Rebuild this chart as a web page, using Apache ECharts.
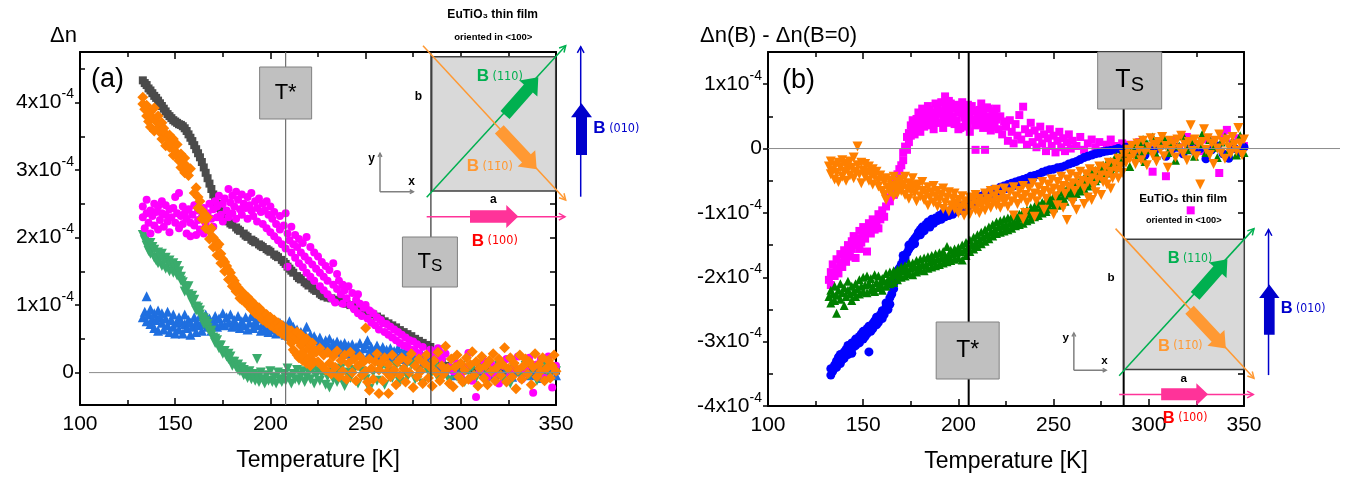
<!DOCTYPE html>
<html>
<head>
<meta charset="utf-8">
<script src="https://cdn.jsdelivr.net/npm/echarts@6/dist/echarts.min.js"></script>
<style>
  html, body { margin: 0; padding: 0; background: #fff; }
  #chart { width: 1347px; height: 479px; }
</style>
</head>
<body>
<div id="chart"></div>
<script>
// Values are in units of 1e-4 (Δn), temperatures in K.

// ---- Panel (a): Δn vs temperature ----
const aGraySquares = [
  [133,4.33],[134,4.29],[135,4.26],[136,4.21],[137,4.18],[138,4.14],[139,4.10],[140,4.07],[141,4.03],[142,3.99],
  [143,3.95],[144,3.91],[145,3.87],[146,3.83],[147,3.80],[148,3.77],[149,3.74],[150,3.72],[151,3.70],[152,3.68],
  [153,3.67],[154,3.65],[155,3.62],[156,3.58],[157,3.53],[158,3.48],[159,3.43],[160,3.37],[161,3.31],[162,3.25],
  [163,3.19],[164,3.12],[165,3.04],[166,2.96],[167,2.88],[168,2.80],[169,2.72],[170,2.64],[171,2.57],[172,2.50],
  [173,2.44],[174,2.39],[175,2.34],[176,2.30],[177,2.27],[178,2.24],[179,2.21],[180,2.19],[182,2.15],[183,2.12],
  [184,2.10],[186,2.06],[187,2.03],[188,2.01],[190,1.97],[191,1.95],[192,1.93],[194,1.90],[195,1.88],[196,1.86],
  [198,1.83],[199,1.81],[200,1.79],[202,1.75],[203,1.73],[204,1.71],[206,1.67],[207,1.64],[208,1.61],[209,1.57],
  [210,1.54],[211,1.51],[212,1.48],[214,1.43],[215,1.40],[216,1.38],[218,1.34],[219,1.32],[220,1.29],[222,1.25],
  [223,1.23],[224,1.21],[226,1.17],[227,1.15],[228,1.13],[230,1.11],[232,1.10],[234,1.08],[236,1.06],[238,1.04],
  [240,1.02],[242,1.00],[244,0.98],[246,0.96],[248,0.94],[250,0.92],[252,0.89],[254,0.86],[256,0.83],[258,0.80],
  [260,0.76],[262,0.73],[264,0.70],[266,0.67],[268,0.63],[270,0.60],[272,0.57],[274,0.54],[276,0.50],[278,0.47],
  [280,0.44],[282,0.41],[284,0.38],[286,0.30],[288,0.22],[290,0.15],[292,0.10],[295,0.06],[298,0.08],[301,0.03],
  [304,0.06],[307,0.02],[310,0.05],[314,0.01],[318,0.04],[322,0.00],[326,0.05],[330,0.02],[334,0.04],[338,0.01],
  [342,0.05],[346,0.02],[350,0.03]
];

const aBlueTriangles = [
  [133,0.82],[134,0.90],[135,0.76],[135,1.13],[136,0.86],[137,0.72],[137,0.94],[138,0.80],[139,0.66],[139,0.88],
  [140,0.78],[141,0.92],[141,0.62],[142,0.82],[143,0.74],[143,0.88],[144,0.64],[145,0.80],[146,0.70],[146,0.90],
  [147,0.60],[148,0.78],[149,0.68],[149,0.86],[150,0.58],[151,0.74],[152,0.82],[152,0.64],[153,0.76],[154,0.58],
  [155,0.72],[155,0.86],[156,0.66],[157,0.78],[158,0.56],[158,0.74],[159,0.68],[160,0.82],[161,0.60],[161,0.74],
  [162,0.70],[163,0.84],[164,0.62],[164,0.76],[165,0.72],[166,0.86],[167,0.68],[168,0.80],[169,0.62],[170,0.76],
  [171,0.84],[172,0.68],[173,0.80],[174,0.72],[175,0.88],[176,0.70],[177,0.82],[178,0.74],[179,0.86],[180,0.68],
  [181,0.78],[182,0.70],[183,0.84],[184,0.66],[185,0.76],[186,0.70],[187,0.82],[188,0.64],[189,0.74],[190,0.84],
  [191,0.66],[192,0.76],[193,0.70],[194,0.80],[195,0.62],[196,0.72],[197,0.64],[198,0.78],[199,0.60],[200,0.70],
  [201,0.64],[202,0.76],[203,0.58],[204,0.68],[205,0.74],[206,0.60],[207,0.70],[208,0.56],[209,0.66],[210,0.76],
  [211,0.58],[212,0.68],[213,0.54],[214,0.64],[215,0.50],[216,0.60],[217,0.46],[218,0.58],[219,0.68],[220,0.48],
  [221,0.56],[222,0.42],[223,0.54],[224,0.48],[225,0.38],[226,0.52],[227,0.44],[228,0.34],[229,0.48],[230,0.40],
  [231,0.50],[232,0.32],[233,0.44],[234,0.38],[235,0.46],[236,0.30],[237,0.42],[238,0.36],[239,0.44],[240,0.28],
  [241,0.40],[242,0.34],[243,0.42],[244,0.26],[245,0.38],[246,0.32],[247,0.44],[248,0.26],[249,0.36],[250,0.42],
  [251,0.48],[252,0.30],[253,0.38],[254,0.24],[255,0.34],[256,0.40],[257,0.22],[258,0.32],[259,0.38],[260,0.24],
  [261,0.34],[262,0.26],[263,0.36],[264,0.22],[265,0.32],[266,0.28],[267,0.36],[268,0.20],[269,0.30],[270,0.26],
  [271,0.34],[272,0.18],[273,0.28],[274,0.24],[275,0.32],[276,0.16],[277,0.26],[278,0.22],[279,0.30],[280,0.14],
  [281,0.24],[282,0.20],[283,0.12],[284,0.22],[286,0.10],[288,0.04],[290,0.10],[292,0.00],[294,0.06],[296,-0.04],
  [298,0.04],[300,-0.02],[303,0.06],[306,-0.06],[309,0.02],[312,0.08],[315,-0.04],[318,0.04],[321,-0.02],[324,0.06],
  [327,-0.06],[330,0.02],[333,0.08],[336,-0.04],[339,0.04],[342,-0.08],[345,0.02],[348,0.06],[350,-0.04]
];

const aGreenDownTriangles = [
  [133,2.04],[134,1.96],[135,1.88],[135,2.00],[136,1.80],[137,1.92],[137,1.76],[138,1.86],[139,1.70],[139,1.82],
  [140,1.66],[141,1.78],[141,1.62],[142,1.72],[143,1.58],[143,1.76],[144,1.66],[145,1.54],[145,1.70],[146,1.62],
  [147,1.50],[147,1.66],[148,1.58],[149,1.48],[149,1.62],[150,1.54],[151,1.44],[151,1.58],[152,1.50],[153,1.42],
  [153,1.36],[154,1.34],[155,1.28],[155,1.20],[156,1.26],[157,1.16],[157,1.28],[158,1.12],[159,1.14],[159,1.04],
  [160,1.08],[161,0.98],[161,0.92],[162,0.96],[163,0.86],[163,0.92],[164,0.82],[165,0.80],[165,0.72],[166,0.76],
  [167,0.66],[167,0.72],[168,0.62],[169,0.56],[169,0.62],[170,0.52],[171,0.50],[171,0.44],[172,0.48],[173,0.40],
  [173,0.36],[174,0.40],[175,0.32],[175,0.28],[176,0.32],[177,0.24],[178,0.20],[178,0.28],[179,0.24],[180,0.16],
  [180,0.10],[181,0.16],[182,0.08],[183,0.04],[183,0.12],[184,0.02],[185,0.08],[186,-0.04],[186,0.04],[187,-0.02],
  [188,-0.08],[189,0.02],[190,-0.10],[191,-0.02],[192,-0.12],[193,0.20],[193,-0.04],[194,-0.14],[195,0.00],[196,-0.10],
  [197,-0.16],[198,-0.04],[199,-0.12],[200,0.02],[201,-0.14],[202,-0.06],[203,-0.16],[204,0.00],[205,-0.10],[206,-0.14],
  [207,-0.02],[208,-0.12],[209,0.06],[210,-0.06],[211,-0.16],[212,-0.02],[213,-0.10],[214,0.04],[215,-0.12],[216,-0.04],
  [217,0.02],[218,-0.14],[219,-0.06],[220,0.00],[221,-0.10],[222,0.04],[223,-0.16],[224,-0.04],[225,0.02],[226,-0.12],
  [227,-0.02],[228,0.06],[229,-0.18],[230,-0.06],[231,-0.22],[232,0.00],[233,-0.10],[234,0.04],[235,-0.14],[236,-0.02],
  [237,0.06],[238,-0.12],[239,-0.20],[240,0.00],[242,-0.08],[244,0.04],[246,-0.16],[248,0.02],[250,-0.10],[252,-0.24],
  [254,0.00],[256,-0.12],[258,0.06],[260,-0.18],[262,0.02],[264,-0.08],[266,0.10],[268,-0.14],[270,0.04],[272,-0.06],
  [274,0.12],[276,-0.10],[278,0.02],[280,-0.16],[282,0.06],[284,-0.04],[286,0.08],[288,-0.08],[290,0.14],[292,0.00],
  [294,-0.12],[296,0.06],[298,-0.06],[300,0.10],[302,-0.14],[304,0.02],[306,0.08],[308,-0.08],[310,0.12],[312,0.00],
  [314,-0.12],[316,0.06],[318,-0.04],[320,0.10],[322,-0.10],[324,0.04],[326,-0.16],[328,0.08],[330,0.00],[332,-0.08],
  [334,0.10],[336,-0.04],[338,0.06],[340,-0.12],[342,0.04],[344,0.12],[346,-0.06],[348,0.08],[350,0.02]
];

const aMagentaCircles = [
  [133,2.30],[133,2.46],[134,2.14],[135,2.36],[135,2.56],[136,2.22],[137,2.40],[137,2.06],[138,2.32],[139,2.50],
  [139,2.18],[140,2.38],[141,2.12],[141,2.46],[142,2.26],[143,2.54],[143,2.36],[144,2.16],[145,2.34],[145,2.48],
  [146,2.24],[147,2.42],[147,2.08],[148,2.30],[149,2.44],[150,2.22],[150,2.60],[151,2.36],[152,2.14],[152,2.66],
  [153,2.32],[154,2.46],[154,2.20],[155,2.36],[156,2.06],[156,2.28],[157,2.42],[158,2.22],[158,2.02],[159,2.34],
  [160,2.18],[160,2.48],[161,2.04],[162,2.26],[162,2.40],[163,2.12],[164,2.30],[165,2.06],[165,2.44],[166,2.20],
  [167,2.36],[168,2.10],[168,2.50],[169,2.28],[170,2.42],[170,2.16],[171,2.54],[172,2.30],[172,2.46],[173,2.62],
  [174,2.34],[175,2.50],[175,2.24],[176,2.58],[177,2.40],[178,2.72],[178,2.30],[179,2.52],[180,2.62],[180,2.36],
  [181,2.46],[182,2.68],[182,2.28],[183,2.56],[184,2.42],[185,2.64],[185,2.34],[186,2.50],[187,2.44],[188,2.60],
  [188,2.28],[189,2.48],[190,2.40],[190,2.66],[191,2.32],[192,2.54],[193,2.44],[193,2.24],[194,2.58],[195,2.38],
  [196,2.50],[196,2.20],[197,2.40],[198,2.54],[198,2.14],[199,2.34],[200,2.46],[200,2.08],[201,2.28],[202,2.02],
  [202,2.38],[203,2.20],[204,1.96],[205,2.32],[205,2.12],[206,1.90],[207,2.18],[208,2.36],[208,1.84],[209,2.06],
  [209,1.57],[210,1.96],[211,2.16],[211,1.78],[212,1.90],[213,2.04],[213,1.70],[214,1.86],[215,1.62],[215,1.98],
  [216,1.78],[217,1.92],[217,1.56],[218,1.72],[219,2.01],[219,1.48],[220,1.66],[221,1.86],[221,1.42],[222,1.60],
  [223,1.78],[223,1.36],[224,1.54],[225,1.72],[226,1.28],[226,1.48],[227,1.64],[228,1.22],[228,1.42],[229,1.58],
  [230,1.16],[230,1.36],[231,1.52],[232,1.10],[233,1.62],[233,1.30],[234,1.04],[235,1.46],[235,1.24],[236,1.36],
  [237,1.16],[238,1.30],[238,1.02],[239,1.22],[240,1.10],[241,1.28],[242,1.00],[243,1.18],[244,0.94],[245,1.08],
  [246,1.16],[246,0.88],[247,1.02],[248,0.84],[249,0.96],[250,1.00],[251,0.80],[252,0.92],[253,0.74],[254,0.88],
  [255,0.70],[256,0.82],[257,0.64],[258,0.78],[259,0.73],[260,0.60],[261,0.72],[262,0.56],[263,0.68],[264,0.52],
  [265,0.64],[266,0.48],[267,0.60],[268,0.44],[269,0.56],[270,0.40],[271,0.52],[272,0.38],[273,0.48],[274,0.34],
  [275,0.46],[276,0.32],[277,0.42],[278,0.28],[280,0.38],[282,0.26],[284,0.34],[286,0.24],[288,0.36],[289,0.30],
  [290,0.20],[292,0.28],[294,0.08],[296,0.02],[298,0.14],[300,-0.06],[302,0.08],[304,0.29],[306,-0.12],[308,-0.36],
  [310,0.04],[312,0.18],[314,-0.06],[316,0.12],[318,-0.02],[320,-0.16],[322,0.10],[324,0.20],[326,-0.04],[328,0.06],
  [330,0.24],[332,-0.10],[334,0.04],[336,0.22],[338,-0.30],[340,0.12],[342,0.20],[344,-0.08],[346,0.24],[348,-0.22],
  [350,0.10]
];

const aOrangeDiamonds = [
  [133,3.98],[133,4.08],[134,3.90],[135,3.80],[135,3.96],[136,3.72],[137,3.86],[137,3.64],[138,3.78],[139,3.92],
  [139,3.58],[140,3.72],[141,3.62],[141,3.80],[142,3.56],[143,3.70],[143,3.46],[144,3.62],[145,3.54],[145,3.36],
  [146,3.48],[147,3.34],[147,3.52],[148,3.40],[149,3.22],[149,3.46],[150,3.28],[151,3.20],[151,3.38],[152,3.14],
  [153,3.04],[153,3.24],[154,3.10],[155,3.18],[155,2.96],[156,3.06],[157,2.92],[158,3.02],[160,2.66],[161,2.74],
  [162,2.60],[162,2.44],[163,2.54],[164,2.40],[164,2.28],[165,2.36],[166,2.26],[166,2.14],[167,2.30],[168,2.10],
  [168,1.98],[169,2.14],[170,2.00],[170,1.86],[171,1.96],[172,1.86],[172,1.74],[173,1.90],[174,1.76],[174,1.62],
  [175,1.68],[176,1.64],[176,1.50],[177,1.58],[178,1.52],[178,1.38],[179,1.48],[180,1.40],[180,1.28],[181,1.36],
  [182,1.30],[182,1.20],[183,1.26],[184,1.22],[184,1.10],[185,1.20],[185,1.08],[186,1.16],[187,1.04],[188,1.12],
  [188,1.00],[189,1.08],[190,1.06],[190,0.94],[191,1.02],[192,1.00],[192,0.88],[193,0.94],[194,0.96],[194,0.84],
  [195,0.90],[196,0.90],[196,0.78],[197,0.84],[198,0.86],[198,0.74],[199,0.80],[200,0.82],[200,0.70],[201,0.76],
  [202,0.78],[202,0.66],[203,0.72],[204,0.74],[204,0.62],[205,0.68],[206,0.70],[206,0.58],[207,0.64],[208,0.66],
  [208,0.54],[209,0.60],[210,0.62],[210,0.50],
  [211,0.62],[211,0.44],[212,0.56],[212,0.34],[213,0.52],[213,0.30],[214,0.60],[214,0.26],[215,0.46],[215,0.22],
  [216,0.40],[216,0.56],[217,0.30],[217,0.18],[218,0.48],[218,0.24],[219,0.50],[219,0.14],[220,0.36],[220,0.20],
  [221,0.42],[221,0.10],[222,0.28],[222,0.44],[223,0.16],[223,0.34],
  [224,0.30],[225,0.16],[226,0.36],[227,0.10],[228,0.26],[229,0.04],[230,0.30],[231,0.14],[232,-0.02],[233,0.24],
  [234,0.08],[235,0.32],[236,-0.06],[237,0.18],[238,0.02],[239,0.26],[240,-0.10],[241,0.14],[242,0.30],[243,0.00],
  [244,0.20],[245,-0.12],[246,0.10],[247,0.24],[248,-0.04],[249,0.16],[250,0.66],[250,0.02],[251,-0.14],[252,-0.26],
  [252,0.20],[253,0.06],[254,-0.10],[255,0.16],[256,0.28],[257,-0.31],[257,0.04],[258,0.14],[259,-0.12],[260,0.22],
  [261,0.00],[262,-0.31],[262,0.12],[263,-0.06],[264,0.26],[265,0.04],[266,-0.18],[267,0.16],[268,-0.04],[269,0.22],
  [270,0.06],[271,-0.14],[272,0.18],[273,0.00],[274,0.28],[275,-0.22],[276,0.10],[277,-0.06],[278,0.20],[279,0.02],
  [280,-0.16],[281,0.14],[282,0.26],[283,-0.08],[284,0.08],[285,-0.20],[286,0.18],[287,0.00],[288,0.30],[289,-0.12],
  [290,0.10],[291,-0.02],[292,0.39],[293,0.06],[294,-0.16],[295,0.20],[296,-0.21],[297,0.08],[298,0.26],[299,-0.06],
  [300,0.14],[301,-0.14],[302,0.04],[303,0.22],[304,-0.10],[305,0.12],[306,0.31],[307,-0.04],[308,0.16],[309,-0.20],
  [310,0.06],[311,0.24],[312,-0.08],[313,0.10],[314,-0.18],[315,0.18],[316,0.02],[317,0.28],[318,-0.12],[319,0.08],
  [320,0.20],[321,-0.04],[322,0.12],[323,0.37],[324,-0.14],[325,0.06],[326,0.22],[327,-0.06],[328,0.14],[329,-0.24],
  [330,0.04],[331,0.26],[332,-0.10],[333,0.10],[334,0.20],[335,-0.02],[336,0.16],[337,-0.18],[338,0.08],[339,0.28],
  [340,-0.06],[341,0.12],[342,0.02],[343,0.22],[344,-0.12],[345,0.06],[346,0.18],[347,-0.08],[348,0.10],[349,0.26],
  [350,0.02]
];

// ---- Panel (b): Δn(B) - Δn(B=0) vs temperature ----
const bMagentaSquares = [
  [132,-2.04],[133,-1.92],[133,-2.12],[134,-1.80],[135,-1.98],[136,-1.86],[136,-1.72],[137,-1.94],[138,-1.78],[138,-1.64],
  [139,-1.84],[140,-1.70],[140,-1.58],[141,-1.76],[142,-1.62],[142,-1.50],[143,-1.68],[144,-1.44],[144,-1.56],[145,-1.36],
  [146,-1.50],[146,-1.70],[147,-1.40],[148,-1.28],[148,-1.56],[149,-1.46],[150,-1.34],[150,-1.22],[151,-1.40],[152,-1.28],
  [152,-1.60],[153,-1.16],[154,-1.32],[155,-1.20],[155,-1.10],[156,-1.26],[157,-1.14],[158,-1.02],[158,-1.24],[159,-1.10],
  [160,-0.96],[161,-1.06],[162,-0.90],[163,-0.76],[164,-0.82],[165,-0.66],[166,-0.58],[166,-0.72],[167,-0.48],[168,-0.56],
  [168,-0.40],[169,-0.32],[170,-0.26],[171,-0.18],[171,-0.06],[172,0.03],[173,0.18],[173,-0.02],[174,0.24],[174,0.10],
  [175,0.20],[175,0.36],[176,0.30],[176,0.44],[177,0.38],[177,0.22],[178,0.46],[178,0.30],[179,0.34],[179,0.56],
  [180,0.48],[180,0.26],[181,0.40],[181,0.62],[182,0.52],[182,0.34],[183,0.58],[183,0.42],[184,0.44],[184,0.66],
  [185,0.60],[185,0.36],[186,0.42],[186,0.54],[187,0.56],[187,0.30],[188,0.48],[188,0.70],[189,0.62],[189,0.40],
  [190,0.40],[190,0.58],[191,0.54],[191,0.72],[192,0.46],[192,0.32],[193,0.81],[193,0.66],[193,0.50],[194,0.40],
  [194,0.60],[195,0.58],[195,0.74],[196,0.70],[196,0.46],[197,0.50],[197,0.62],[198,0.62],[198,0.38],[199,0.44],
  [199,0.68],[200,0.56],[200,0.30],[201,0.32],[201,0.60],[202,0.55],[202,0.72],[203,0.48],[203,0.34],[204,0.62],
  [204,0.44],[205,0.38],[205,0.68],[206,0.52],[206,0.26],[207,0.66],[207,0.44],[208,0.44],[208,0.58],[209,-0.02],
  [209,0.36],[210,0.58],[210,0.46],[211,0.60],[211,0.38],[212,0.46],[212,0.70],[213,0.54],[213,0.32],[214,-0.02],
  [214,0.50],[215,0.36],[215,0.64],[216,0.62],[216,0.44],[217,0.48],[217,0.28],[218,0.40],[218,0.58],[219,0.56],
  [219,0.34],[220,0.45],[220,0.62],[221,0.30],[222,0.50],[223,0.22],[224,0.42],[225,0.34],[226,0.12],[227,0.44],
  [228,0.26],[229,0.08],[230,0.38],[231,0.20],[232,0.52],[233,0.14],[234,0.65],[235,0.30],[236,0.06],[237,0.24],
  [238,0.40],[239,0.10],[240,0.28],[241,0.02],[242,0.18],[243,0.34],[244,0.08],[245,0.22],[246,-0.04],[247,0.16],
  [248,0.30],[249,0.04],[250,0.20],[251,-0.06],[252,0.12],[253,0.26],[254,0.02],[255,0.16],[256,-0.04],[257,0.10],
  [258,0.22],[259,0.00],[260,0.12],[262,0.04],[264,0.18],[266,-0.02],[268,0.08],[270,0.14],[272,0.02],[274,0.10],
  [276,-0.04],[278,0.06],[280,0.14],[282,0.04],[284,0.00],[286,0.08],[288,0.02],[290,0.06],[292,-0.02],[295,0.10],
  [298,0.04],[302,-0.36],[305,0.08],[309,-0.43],[312,0.12],[316,0.02],[320,0.18],[322,-0.96],[325,0.06],[328,-0.04],
  [331,0.14],[334,0.02],[337,-0.38],[339,0.20],[341,0.29],[344,0.08],[347,0.16],[350,0.04]
];

const bBlueCircles = [
  [133,-3.52],[133,-3.42],[134,-3.46],[135,-3.36],[136,-3.30],[136,-3.40],[137,-3.24],[138,-3.34],[138,-3.20],[139,-3.28],
  [140,-3.16],[140,-3.26],[141,-3.12],[142,-3.20],[142,-3.06],[143,-3.14],[144,-3.02],[144,-3.18],[145,-3.08],[146,-2.96],
  [146,-3.06],[147,-3.00],[148,-2.92],[148,-3.02],[149,-2.88],[150,-2.96],[150,-2.84],[151,-2.92],[152,-2.80],[152,-2.88],
  [153,-3.16],[153,-2.76],[154,-2.84],[155,-2.72],[155,-2.80],[156,-2.68],[157,-2.74],[157,-2.62],[158,-2.70],[159,-2.58],
  [160,-2.64],[160,-2.52],[161,-2.58],[162,-2.46],[162,-2.40],[163,-2.50],[164,-2.32],[164,-2.42],[165,-2.26],[166,-2.18],
  [166,-2.10],[167,-2.04],[168,-1.96],[168,-1.90],[169,-1.86],[170,-1.80],[171,-1.74],[171,-1.66],[172,-1.70],[173,-1.62],
  [174,-1.56],[174,-1.50],[175,-1.52],[176,-1.44],[177,-1.40],[177,-1.48],[178,-1.36],[179,-1.30],[180,-1.34],[180,-1.26],
  [181,-1.22],[182,-1.28],[183,-1.18],[184,-1.14],[185,-1.22],[186,-1.10],[187,-1.16],[188,-1.08],[189,-1.12],[190,-1.04],
  [191,-1.10],[192,-1.00],[193,-1.06],[194,-0.98],[195,-1.04],[196,-0.96],[197,-1.02],[198,-0.94],[199,-0.98],[200,-0.92],
  [201,-0.96],[202,-0.88],[203,-0.92],[204,-0.86],[205,-0.90],[206,-0.82],[207,-0.86],[208,-0.80],[209,-0.84],[210,-0.78],
  [211,-0.80],[212,-0.74],[213,-0.78],[214,-0.70],[215,-0.74],[216,-0.68],[217,-0.70],[218,-0.64],[219,-0.68],[220,-0.64],
  [221,-0.68],[222,-0.60],[223,-0.64],[224,-0.58],[225,-0.62],[226,-0.56],[227,-0.60],[228,-0.54],[229,-0.58],[230,-0.52],
  [231,-0.56],[232,-0.50],[233,-0.54],[234,-0.48],[235,-0.52],[236,-0.46],[237,-0.49],[238,-0.43],[239,-0.47],[240,-0.42],
  [242,-0.40],[244,-0.37],[246,-0.35],[248,-0.33],[250,-0.32],[252,-0.30],[254,-0.29],[256,-0.27],[258,-0.24],[260,-0.22],
  [262,-0.20],[264,-0.17],[266,-0.14],[268,-0.12],[270,-0.10],[272,-0.08],[274,-0.07],[276,-0.05],[278,-0.04],[280,-0.03],
  [282,-0.02],[284,0.00],[286,-0.03],[288,0.02],[290,-0.02],[292,0.04],[294,-0.06],[296,0.02],[298,-0.10],[300,0.00],
  [303,-0.04],[306,0.04],[309,-0.12],[312,-0.02],[315,0.02],[318,-0.08],[321,0.04],[324,-0.04],[327,0.00],[330,-0.16],
  [333,-0.02],[336,0.04],[339,-0.08],[342,-0.15],[345,0.00],[348,-0.06],[350,0.02]
];

const bGreenTriangles = [
  [132,-2.30],[133,-2.20],[133,-2.40],[134,-2.26],[135,-2.36],[135,-2.14],[136,-2.56],[136,-2.28],[137,-2.20],[138,-2.34],
  [138,-2.10],[139,-2.24],[140,-2.44],[140,-2.16],[141,-2.30],[142,-2.20],[142,-2.06],[143,-2.26],[144,-2.14],[144,-2.36],
  [145,-2.22],[146,-2.10],[146,-2.30],[147,-2.18],[148,-2.04],[148,-2.26],[149,-2.14],[150,-2.22],[150,-2.00],[151,-2.12],
  [152,-2.24],[152,-1.98],[153,-2.10],[154,-2.20],[154,-2.02],[155,-2.14],[156,-1.96],[156,-2.22],[157,-2.08],[158,-2.16],
  [158,-1.98],[159,-2.10],[160,-2.02],[160,-2.20],[161,-2.06],[162,-1.94],[162,-2.14],[163,-2.04],[164,-1.92],[164,-2.10],
  [165,-2.00],[166,-1.90],[166,-2.08],[167,-1.96],[168,-1.88],[168,-2.04],[169,-1.94],[170,-1.84],[170,-2.00],[171,-1.90],
  [172,-1.82],[172,-1.98],[173,-1.88],[174,-1.78],[174,-1.94],[175,-1.86],[176,-1.78],[176,-1.96],[177,-1.84],[178,-1.74],
  [178,-1.92],[179,-1.82],[180,-1.72],[180,-1.88],[181,-1.80],[182,-1.90],[182,-1.70],[183,-1.80],[184,-1.68],[184,-1.86],
  [185,-1.76],[186,-1.66],[186,-1.84],[187,-1.74],[188,-1.64],[188,-1.82],[189,-1.72],[190,-1.62],[190,-1.80],[191,-1.70],
  [192,-1.60],[192,-1.78],[193,-1.68],[194,-1.52],[194,-1.76],[195,-1.66],[196,-1.58],[196,-1.74],[197,-1.64],[198,-1.56],
  [198,-1.72],[199,-1.62],[200,-1.54],[200,-1.70],[201,-1.60],[202,-1.73],[202,-1.50],[203,-1.58],[204,-1.46],[204,-1.66],
  [205,-1.54],[206,-1.42],[206,-1.60],[207,-1.50],[208,-1.38],[208,-1.56],[209,-1.46],[210,-1.34],[210,-1.52],[211,-1.42],
  [212,-1.30],[212,-1.48],[213,-1.38],[214,-1.26],[214,-1.44],[215,-1.34],[216,-1.22],[216,-1.40],[217,-1.30],[218,-1.18],
  [218,-1.36],[219,-1.26],[220,-1.14],[220,-1.32],[221,-1.22],[222,-1.12],[222,-1.30],[223,-1.20],[224,-1.10],[224,-1.28],
  [225,-1.18],[226,-1.08],[226,-1.26],[227,-1.16],[228,-1.06],[228,-1.24],[229,-1.14],[230,-1.04],[230,-1.20],[231,-1.12],
  [232,-1.02],[232,-1.18],[233,-1.08],[234,-0.98],[234,-1.16],[235,-1.06],[236,-0.96],[236,-1.12],[237,-1.02],[238,-0.92],
  [238,-1.10],[239,-1.00],[240,-0.90],[240,-1.06],[241,-0.96],[242,-0.86],[242,-1.04],[243,-0.94],[244,-0.84],[244,-1.00],
  [245,-0.90],[246,-0.80],[246,-0.98],[247,-0.88],[248,-0.78],[248,-0.94],[249,-0.84],[250,-0.74],[250,-0.92],[251,-0.82],
  [252,-0.72],[252,-0.88],[253,-0.78],[254,-0.68],[254,-0.86],[255,-0.76],[256,-0.66],[256,-0.82],[257,-0.64],[258,-0.72],
  [258,-0.58],[259,-0.68],[260,-0.56],[260,-0.74],[261,-0.64],[262,-0.52],[262,-0.70],[263,-0.60],[264,-0.48],[264,-0.66],
  [265,-0.56],[266,-0.46],[266,-0.62],[267,-0.52],[268,-0.42],[268,-0.58],[269,-0.48],[270,-0.38],[270,-0.54],[271,-0.44],
  [272,-0.34],[272,-0.50],[273,-0.40],[274,-0.30],[274,-0.46],[275,-0.36],[276,-0.26],[276,-0.42],[277,-0.32],[278,-0.22],
  [278,-0.38],[279,-0.28],[280,-0.20],[280,-0.34],[281,-0.24],[282,-0.16],[282,-0.30],[283,-0.12],[284,-0.22],[285,-0.10],
  [286,-0.18],[287,-0.06],[288,-0.14],[289,-0.02],[290,-0.28],[291,0.02],[292,-0.08],[293,0.06],[294,-0.14],[295,0.10],
  [296,-0.04],[297,0.14],[298,-0.20],[299,0.08],[300,-0.02],[302,0.18],[304,-0.10],[306,0.06],[308,0.16],[310,-0.06],
  [312,0.10],[314,-0.18],[316,0.04],[318,0.20],[320,-0.02],[322,0.12],[324,-0.12],[326,0.08],[328,0.22],[330,-0.06],
  [332,0.14],[334,0.02],[336,-0.14],[338,0.10],[340,0.18],[342,-0.04],[344,0.12],[346,-0.10],[348,0.20],[350,-0.06]
];

const bOrangeDownTriangles = [
  [132,-0.28],[133,-0.40],[133,-0.20],[134,-0.34],[135,-0.48],[135,-0.26],[136,-0.38],[137,-0.22],[137,-0.52],[138,-0.30],
  [139,-0.44],[139,-0.18],[140,-0.36],[141,-0.24],[141,-0.50],[142,-0.32],[143,-0.42],[143,-0.20],[144,-0.30],[145,-0.46],
  [145,-0.14],[146,-0.36],[147,0.03],[147,-0.26],[148,-0.40],[149,-0.22],[149,-0.54],[150,-0.34],[151,-0.44],[151,-0.24],
  [152,-0.38],[153,-0.28],[153,-0.50],[154,-0.40],[155,-0.32],[155,-0.56],[156,-0.44],[157,-0.36],[158,-0.50],[158,-0.59],
  [159,-0.42],[160,-0.66],[161,-0.52],[161,-0.72],[162,-0.80],[162,-0.46],[163,-0.60],[164,-0.68],[164,-0.50],[165,-0.58],
  [166,-0.74],[166,-0.44],[167,-0.62],[168,-0.52],[168,-0.70],[169,-0.60],[170,-0.48],[170,-0.66],[171,-0.56],[172,-0.72],
  [172,-0.44],[173,-0.62],[174,-0.54],[174,-0.78],[175,-0.66],[176,-0.58],[176,-0.46],[177,-0.70],[178,-0.62],[178,-0.82],
  [179,-0.56],[180,-0.74],[181,-0.66],[181,-0.52],[182,-0.80],[183,-0.70],[184,-0.60],[184,-0.88],[185,-0.76],[186,-0.68],
  [187,-0.84],[187,-0.58],[188,-0.74],[189,-0.90],[189,-0.66],[190,-0.80],[191,-0.72],[192,-0.94],[192,-0.62],[193,-0.84],
  [194,-0.76],[195,-0.98],[195,-0.68],[196,-0.88],[197,-0.78],[198,-0.94],[198,-0.70],[199,-0.86],[200,-1.00],[200,-0.80],
  [201,-0.92],[202,-0.74],[203,-0.88],[203,-1.04],[204,-0.82],[205,-0.94],[206,-0.76],[206,-1.02],[207,-0.88],[208,-0.80],
  [209,-0.96],[209,-0.72],[210,-0.86],[211,-1.00],[211,-0.78],[212,-0.90],[213,-0.82],[214,-0.96],[214,-0.70],[215,-0.86],
  [216,-0.78],[217,-0.92],[217,-0.66],[218,-0.84],[219,-0.74],[220,-0.88],[220,-0.64],[221,-0.80],[222,-0.92],[223,-0.72],
  [224,-0.84],[224,-0.62],[225,-0.78],[226,-0.90],[227,-0.68],[228,-0.82],[229,-1.04],[229,-0.60],[230,-0.74],[231,-0.86],
  [232,-0.66],[233,-0.78],[234,-1.10],[234,-0.58],[235,-0.72],[235,-1.00],[236,-0.84],[237,-0.62],[238,-0.76],[239,-0.54],
  [240,-0.70],[240,-1.06],[241,-0.82],[242,-0.60],[243,-0.72],[244,-0.52],[245,-0.66],[245,-0.95],[246,-0.78],[247,-0.56],
  [248,-0.68],[249,-0.48],[250,-0.62],[250,-1.02],[251,-0.74],[252,-0.52],[252,-0.88],[253,-0.64],[254,-0.44],[255,-0.58],
  [255,-0.92],[256,-0.70],[257,-0.48],[257,-1.11],[258,-0.60],[259,-0.40],[260,-0.54],[260,-0.84],[261,-0.66],[262,-0.44],
  [262,-0.95],[263,-0.56],[264,-0.36],[265,-0.50],[266,-0.62],[266,-0.86],[267,-0.40],[268,-0.52],[268,-0.76],[269,-0.32],
  [270,-0.46],[270,-0.80],[271,-0.58],[272,-0.36],[272,-0.68],[273,-0.48],[274,-0.28],[275,-0.42],[275,-0.72],[276,-0.52],
  [277,-0.30],[278,-0.42],[278,-0.56],[279,-0.22],[280,-0.36],[280,-0.62],[281,-0.46],[282,-0.24],[283,-0.34],[284,-0.16],
  [284,-0.46],[285,-0.28],[286,-0.38],[287,-0.10],[288,-0.22],[289,-0.02],[290,-0.16],[291,0.04],[292,-0.10],[293,-0.24],
  [294,0.08],[295,-0.04],[296,-0.18],[297,0.12],[298,-0.06],[299,-0.26],[300,0.02],[301,0.16],[302,-0.10],[303,0.06],
  [304,-0.20],[305,0.10],[306,-0.02],[307,0.18],[308,-0.12],[309,0.04],[310,-0.30],[311,0.12],[312,-0.04],[313,0.08],
  [314,-0.14],[315,0.14],[316,0.00],[317,0.20],[318,-0.08],[319,0.06],[320,-0.18],[321,0.10],[322,0.36],[323,-0.04],
  [324,0.14],[325,-0.12],[326,0.06],[327,-0.56],[328,0.10],[329,0.30],[330,-0.02],[331,0.16],[332,-0.10],[333,0.08],
  [334,-0.24],[335,0.12],[336,0.00],[337,0.22],[338,-0.06],[339,0.10],[340,-0.16],[341,0.14],[342,0.02],[343,-0.08],
  [344,0.18],[345,0.06],[346,-0.04],[347,0.32],[348,0.08],[349,-0.10],[350,0.14]
];

// Characteristic temperatures (K) marked by vertical lines
const T_STAR_A = 208, T_S_A = 284.3;
const T_STAR_B = 205.4, T_S_B = 286.8;

// Axis ticks (1e-4 units)
const A_Y_MAJOR = [0, 1, 2, 3, 4];
const A_Y_MINOR = [0.5, 1.5, 2.5, 3.5, 4.5];
const B_Y_MAJOR = [-4, -3, -2, -1, 0, 1];
const B_Y_MINOR = [-3.5, -2.5, -1.5, -0.5, 0.5];

const FONT = '"Liberation Sans", Arial, Helvetica, sans-serif';

function sciLabel(v) {
  if (Math.abs(v) < 1e-9) return '0';
  return '{m|' + Math.round(v) + 'x10}{e|-4}';
}
const sciRich = {
  m: { fontSize: 21, fontFamily: FONT, color: '#000', lineHeight: 30 },
  e: { fontSize: 14, fontFamily: FONT, color: '#000', lineHeight: 19, verticalAlign: 'top' }
};

function xAxes(gridIndex) {
  const base = {
    gridIndex, type: 'value', min: 100, max: 350, interval: 50,
    axisLine: { show: true, onZero: false, lineStyle: { color: '#000', width: 2 } },
    axisTick: { show: true, inside: true, length: 7, lineStyle: { color: '#000', width: 1.5 } },
    minorTick: { show: true, splitNumber: 2, length: 5, lineStyle: { color: '#000', width: 1.5 } },
    splitLine: { show: false }, minorSplitLine: { show: false }
  };
  return [
    Object.assign({}, base, {
      position: 'bottom',
      axisLabel: { show: true, fontSize: 21, fontFamily: FONT, color: '#000', margin: 9 },
      name: 'Temperature [K]', nameLocation: 'middle', nameGap: 44,
      nameTextStyle: { fontSize: 23, fontFamily: FONT, color: '#000' }
    }),
    Object.assign({}, base, { position: 'top', axisLabel: { show: false } })
  ];
}

function yAxes(gridIndex, min, max, major, minor) {
  const common = { gridIndex, type: 'value', min, max, splitLine: { show: false } };
  return [
    Object.assign({}, common, {
      position: 'left',
      axisLine: { show: true, onZero: false, lineStyle: { color: '#000', width: 2 } },
      axisTick: { show: true, inside: false, length: 5, customValues: major, lineStyle: { color: '#000', width: 1.5 } },
      axisLabel: { show: true, customValues: major, formatter: sciLabel, rich: sciRich,
                   fontSize: 21, fontFamily: FONT, color: '#000', margin: 6 }
    }),
    Object.assign({}, common, {
      position: 'left',
      axisLine: { show: false },
      axisTick: { show: true, inside: true, length: 5, customValues: minor, lineStyle: { color: '#000', width: 1.5 } },
      axisLabel: { show: false }
    }),
    Object.assign({}, common, {
      position: 'right',
      axisLine: { show: true, onZero: false, lineStyle: { color: '#000', width: 2 } },
      axisTick: { show: true, inside: true, length: 6, customValues: major.concat(minor),
                  lineStyle: { color: '#000', width: 1.5 } },
      axisLabel: { show: false }
    })
  ];
}

function scatter(name, data, xi, yi, symbol, size, color, rotate, z) {
  return {
    name, type: 'scatter', data, xAxisIndex: xi, yAxisIndex: yi,
    symbol, symbolSize: size, symbolRotate: rotate || 0,
    itemStyle: { color, opacity: 1 }, z: z || 2, animation: false, silent: true
  };
}

const chart = echarts.init(document.getElementById('chart'), null, { renderer: 'canvas' });

chart.setOption({
  animation: false,
  backgroundColor: '#fff',
  grid: [
    { left: 80, top: 52, width: 476, height: 353, containLabel: false },
    { left: 768, top: 52, width: 476, height: 354, containLabel: false }
  ],
  xAxis: xAxes(0).concat(xAxes(1)),
  yAxis: yAxes(0, -0.48, 4.75, A_Y_MAJOR, A_Y_MINOR)
    .concat(yAxes(1, -4, 1.5, B_Y_MAJOR, B_Y_MINOR)),
  series: [
    scatter('a-gray', aGraySquares, 0, 0, 'rect', 8, '#4b4b4b', 0, 2),
    scatter('a-blue', aBlueTriangles, 0, 0, 'triangle', 10, '#1f6fe0', 0, 3),
    scatter('a-green', aGreenDownTriangles, 0, 0, 'triangle', 10, '#3aab6c', 180, 4),
    scatter('a-magenta', aMagentaCircles, 0, 0, 'circle', 8, '#ff00ff', 0, 5),
    scatter('a-orange', aOrangeDiamonds, 0, 0, 'diamond', 11, '#ff7f00', 0, 6),
    scatter('b-magenta', bMagentaSquares, 2, 3, 'rect', 8, '#ff00ff', 0, 2),
    scatter('b-blue', bBlueCircles, 2, 3, 'circle', 9, '#0000ff', 0, 3),
    scatter('b-green', bGreenTriangles, 2, 3, 'triangle', 9, '#008000', 0, 4),
    scatter('b-orange', bOrangeDownTriangles, 2, 3, 'triangle', 10, '#ff8000', 180, 5)
  ]
});

// ---------- annotations ----------
const toPx = (xi, yi, x, y) => chart.convertToPixel({ xAxisIndex: xi, yAxisIndex: yi }, [x, y]);

function line(x1, y1, x2, y2, color, width, z) {
  return { type: 'line', silent: true, z: z || 50,
           shape: { x1, y1, x2, y2 }, style: { stroke: color, lineWidth: width } };
}
function thinArrow(x1, y1, x2, y2, color, head) {
  head = head || 7;
  const a = Math.atan2(y2 - y1, x2 - x1);
  const p1 = [x2 - head * Math.cos(a - 0.5), y2 - head * Math.sin(a - 0.5)];
  const p2 = [x2 - head * Math.cos(a + 0.5), y2 - head * Math.sin(a + 0.5)];
  return [
    line(x1, y1, x2, y2, color, 1.5, 70),
    { type: 'polyline', silent: true, z: 70, shape: { points: [p1, [x2, y2], p2] },
      style: { stroke: color, lineWidth: 1.5, fill: null } }
  ];
}
function blockArrow(x1, y1, x2, y2, shaft, headW, headL, color) {
  const a = Math.atan2(y2 - y1, x2 - x1), c = Math.cos(a), s = Math.sin(a);
  const L = Math.hypot(x2 - x1, y2 - y1);
  const local = [[0, -shaft / 2], [L - headL, -shaft / 2], [L - headL, -headW / 2], [L, 0],
                 [L - headL, headW / 2], [L - headL, shaft / 2], [0, shaft / 2]];
  return { type: 'polygon', silent: true, z: 71,
           shape: { points: local.map(([u, v]) => [x1 + u * c - v * s, y1 + u * s + v * c]) },
           style: { fill: color } };
}
function text(x, y, str, opts) {
  return { type: 'text', silent: true, z: opts.z || 72, x, y,
           style: Object.assign({ text: str, fontFamily: FONT, fill: '#000',
                                  align: 'left', verticalAlign: 'middle' }, opts.style) };
}
function bLabel(x, y, idx, color, s) {
  return text(x, y, '{b|B}{n| ' + idx + '}', { style: {
    rich: {
      b: { fontSize: 17 * s, fontWeight: 'bold', fill: color, fontFamily: FONT },
      n: { fontSize: 12.5 * s, fill: color, fontFamily: '"DejaVu Sans Condensed", ' + FONT }
    } } });
}
function labelBox(cx, top, w, h, rich, str) {
  return [
    { type: 'rect', silent: true, z: 80, shape: { x: cx - w / 2, y: top, width: w, height: h },
      style: { fill: '#c0c0c0', stroke: '#808080', lineWidth: 1 } },
    text(cx, top + h / 2, str, { z: 81, style: { align: 'center', rich } })
  ];
}

// Crystal orientation sketch; (ox, oy) is the top-left corner of the film square.
function orientationSketch(ox, oy, s) {
  const P = (dx, dy) => [ox + dx * s, oy + dy * s];
  const els = [];
  els.push({ type: 'rect', silent: true, z: 65,
             shape: { x: ox, y: oy, width: 124 * s, height: 134.3 * s },
             style: { fill: '#d9d9d9', stroke: '#404040', lineWidth: 1.5 } });
  const green = '#00b050', orange = '#ff9933', blue = '#0000cc', pink = '#ff3399';
  let a, b;
  a = P(-5, 140.6); b = P(134, -11); els.push(...thinArrow(a[0], a[1], b[0], b[1], green));
  a = P(-8.7, -11); b = P(134, 143.3); els.push(...thinArrow(a[0], a[1], b[0], b[1], orange));
  a = P(149, 140); b = P(149, -10); els.push(...thinArrow(a[0], a[1], b[0], b[1], blue));
  a = P(-5, 160); b = P(133.3, 160); els.push(...thinArrow(a[0], a[1], b[0], b[1], pink));
  a = P(73.3, 58.3); b = P(106.6, 20.6); els.push(blockArrow(a[0], a[1], b[0], b[1], 12 * s, 24 * s, 15 * s, green));
  a = P(67.6, 72.6); b = P(105, 112.6); els.push(blockArrow(a[0], a[1], b[0], b[1], 12 * s, 24 * s, 15 * s, orange));
  a = P(149.8, 98.3); b = P(149.8, 46.6); els.push(blockArrow(a[0], a[1], b[0], b[1], 11 * s, 21 * s, 14 * s, blue));
  a = P(38.3, 159.8); b = P(86.6, 159.8); els.push(blockArrow(a[0], a[1], b[0], b[1], 12.5 * s, 23 * s, 12 * s, pink));
  // small x / y frame
  a = P(-51.7, 135); b = P(-51.7, 96.6); els.push(...thinArrow(a[0], a[1], b[0], b[1], '#808080', 4));
  a = P(-51.7, 135); b = P(-18.4, 135); els.push(...thinArrow(a[0], a[1], b[0], b[1], '#808080', 4));
  const small = { fontSize: 12 * s, fontWeight: 'bold', align: 'center' };
  a = P(-60, 101.6); els.push(text(a[0], a[1], 'y', { style: small }));
  a = P(-20, 125); els.push(text(a[0], a[1], 'x', { style: small }));
  a = P(61.6, 143.3); els.push(text(a[0], a[1], 'a', { style: small }));
  a = P(-13.4, 40); els.push(text(a[0], a[1], 'b', { style: small }));
  a = P(61, -41.7);
  els.push(text(a[0], a[1], 'EuTiO\u2083 thin film', { style: { fontSize: 12 * s, fontWeight: 'bold', align: 'center' } }));
  a = P(61.6, -19.7);
  els.push(text(a[0], a[1], 'oriented in <100>', { style: { fontSize: 9.5 * s, fontWeight: 'bold', align: 'center' } }));
  a = P(45, 20); els.push(bLabel(a[0], a[1], '(110)', '#00b050', s));
  a = P(35, 110); els.push(bLabel(a[0], a[1], '(11\u03040)', '#ff9933', s));
  a = P(161.6, 71.6); els.push(bLabel(a[0], a[1], '(010)', '#0000cc', s));
  a = P(40, 184.3); els.push(bLabel(a[0], a[1], '(100)', '#ff0000', s));
  return els;
}

function buildAnnotations() {
  const g = [];
  // panel (a)
  const a0 = toPx(0, 0, 100, 0), a1 = toPx(0, 0, 350, 0);
  g.push(line(a0[0] + 9, a0[1], a1[0] + 4, a1[1], '#8c8c8c', 1, 40));
  const aTop = toPx(0, 0, T_STAR_A, 4.75)[1], aBot = toPx(0, 0, T_STAR_A, -0.48)[1];
  const xStarA = toPx(0, 0, T_STAR_A, 0)[0], xSA = toPx(0, 0, T_S_A, 0)[0];
  g.push(line(xStarA, aTop, xStarA, aBot, '#707070', 1.2, 41));
  g.push(line(xSA, aTop, xSA, aBot, '#303030', 1.2, 41));
  g.push(...labelBox(xStarA, 67, 52, 52,
    { t: { fontSize: 22, fontFamily: FONT, fill: '#000' } }, '{t|T*}'));
  g.push(...labelBox(xSA - 1, 237, 55, 50,
    { t: { fontSize: 22, fontFamily: FONT, fill: '#000', lineHeight: 26 },
      s: { fontSize: 17, fontFamily: FONT, fill: '#000', lineHeight: 14, verticalAlign: 'bottom' } }, '{t|T}{s|S}'));
  g.push(...orientationSketch(431.7, 56.7, 1));

  // panel (b)
  const b0 = toPx(2, 3, 100, 0);
  g.push(line(b0[0], b0[1], 1340, b0[1], '#8c8c8c', 1, 40));
  const bTop = toPx(2, 3, T_STAR_B, 1.5)[1], bBot = toPx(2, 3, T_STAR_B, -4)[1];
  const xStarB = toPx(2, 3, T_STAR_B, 0)[0], xSB = toPx(2, 3, T_S_B, 0)[0];
  g.push(line(xStarB, bTop, xStarB, bBot, '#000', 2, 41));
  g.push(line(xSB, bTop, xSB, bBot, '#000', 2, 41));
  g.push(...labelBox(xSB + 6, 52, 64, 57,
    { t: { fontSize: 25, fontFamily: FONT, fill: '#000', lineHeight: 30 },
      s: { fontSize: 20, fontFamily: FONT, fill: '#000', lineHeight: 16, verticalAlign: 'bottom' } }, '{t|T}{s|S}'));
  g.push(...labelBox(xStarB - 1, 322, 63, 57,
    { t: { fontSize: 23, fontFamily: FONT, fill: '#000' } }, '{t|T*}'));
  g.push(...orientationSketch(1124, 239.3, 0.97));

  // titles
  g.push(text(50, 36, '\u0394n', { style: { fontSize: 22 } }));
  g.push(text(700, 36, '\u0394n(B) - \u0394n(B=0)', { style: { fontSize: 22 } }));
  g.push(text(91, 80, '(a)', { style: { fontSize: 27 } }));
  g.push(text(782, 81, '(b)', { style: { fontSize: 27 } }));
  return g;
}

chart.setOption({ graphic: { elements: buildAnnotations() } });
</script>
</body>
</html>
